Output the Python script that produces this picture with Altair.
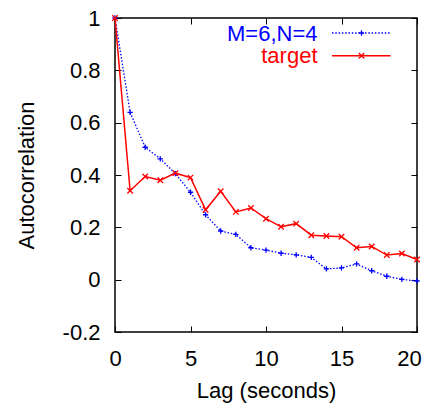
import altair as alt
import pandas as pd

lags = list(range(21))
model_acf = [1.0, 0.639, 0.506, 0.462, 0.405, 0.334, 0.248, 0.186, 0.173, 0.122, 0.113,
             0.101, 0.095, 0.085, 0.041, 0.045, 0.060, 0.034, 0.013, 0.001, -0.005]
target_acf = [1.0, 0.340, 0.394, 0.380, 0.407, 0.390, 0.267, 0.338, 0.259, 0.274, 0.233,
              0.202, 0.214, 0.170, 0.167, 0.164, 0.122, 0.127, 0.094, 0.100, 0.077]
series_names = ["M=6,N=4", "target"]
series_colors = ["#0000ff", "#ff0000"]
x_ticks = [0, 5, 10, 15, 20]
y_ticks = [-0.2, 0, 0.2, 0.4, 0.6, 0.8, 1]

model_df = pd.DataFrame({"lag": lags, "acf": model_acf})
target_df = pd.DataFrame({"lag": lags, "acf": target_acf})

FONT = "Liberation Sans"
W, H = 302, 314
TICK = {"expr": "-6"}
xscale = alt.Scale(domain=[0, 20], nice=False, zero=False)
yscale = alt.Scale(domain=[-0.2, 1], nice=False, zero=False)

x_main = alt.X("lag:Q", scale=xscale,
               axis=alt.Axis(values=x_ticks, title="Lag (seconds)", tickSize=TICK,
                             labelPadding=22, labelFlush=False, labelOverlap=False,
                             labelOffset={"condition": {"test": "datum.value == 20", "value": -8},
                                          "value": 0},
                             titleX=W / 2, titleY=65, titleBaseline="alphabetic"))
y_main = alt.Y("acf:Q", scale=yscale,
               axis=alt.Axis(values=y_ticks, title="Autocorrelation", tickSize=TICK,
                             labelPadding=21, labelFlush=False, labelOverlap=False,
                             labelExpr="'' + datum.value",
                             titleX=-82, titleY=H / 2, titleBaseline="alphabetic"))
x_top = alt.X("lag:Q", scale=xscale,
              axis=alt.Axis(orient="top", values=x_ticks, labels=False, title="", tickSize=TICK))
y_right = alt.Y("acf:Q", scale=yscale,
                axis=alt.Axis(orient="right", values=y_ticks, labels=False, title="", tickSize=TICK))

PLUS = "M-1,0L1,0M0,-1L0,1"
CROSS = "M-1,-1L1,1M-1,1L1,-1"

blue_line = alt.Chart(model_df).mark_line(color=series_colors[0], strokeWidth=1.3,
                                          strokeDash=[1.5, 1.8]).encode(x=x_main, y=y_main)
blue_pts = alt.Chart(model_df).mark_point(shape=PLUS, filled=False, size=28, strokeWidth=1.3,
                                          color=series_colors[0], opacity=1).encode(x=x_main, y=y_main)
red_line = alt.Chart(target_df).mark_line(color=series_colors[1], strokeWidth=1.5).encode(x=x_main, y=y_main)
red_pts = alt.Chart(target_df).mark_point(shape=CROSS, filled=False, size=30, strokeWidth=1.3,
                                          color=series_colors[1], opacity=1).encode(x=x_main, y=y_main)

main = alt.layer(blue_line, blue_pts, red_line, red_pts)
mirror = alt.Chart(model_df).mark_point(opacity=0).encode(x=x_top, y=y_right)

leg_blue = pd.DataFrame({"label": [series_names[0]]})
leg_red = pd.DataFrame({"label": [series_names[1]]})

blue_txt = alt.Chart(leg_blue).mark_text(align="right", baseline="alphabetic", font=FONT, fontSize=22,
                                         color=series_colors[0]).encode(
    x=alt.value(202.5), y=alt.value(23.3), text="label:N")
red_txt = alt.Chart(leg_red).mark_text(align="right", baseline="alphabetic", font=FONT, fontSize=22,
                                       color=series_colors[1]).encode(
    x=alt.value(202.5), y=alt.value(45), text="label:N")
blue_rule = alt.Chart(leg_blue).mark_rule(color=series_colors[0], strokeWidth=1.3,
                                          strokeDash=[1.5, 1.8]).encode(
    x=alt.value(217), x2=alt.value(275.5), y=alt.value(15))
red_rule = alt.Chart(leg_red).mark_rule(color=series_colors[1], strokeWidth=1.5).encode(
    x=alt.value(217), x2=alt.value(275.5), y=alt.value(37.7))
blue_mk = alt.Chart(leg_blue).mark_point(shape=PLUS, filled=False, size=28, strokeWidth=1.3,
                                         color=series_colors[0], opacity=1).encode(
    x=alt.value(246.5), y=alt.value(15))
red_mk = alt.Chart(leg_red).mark_point(shape=CROSS, filled=False, size=30, strokeWidth=1.3,
                                       color=series_colors[1], opacity=1).encode(
    x=alt.value(246.5), y=alt.value(37.7))

chart = alt.layer(
    main, mirror, blue_rule, red_rule, blue_mk, red_mk, blue_txt, red_txt
).resolve_axis(x="independent", y="independent").properties(
    width=W, height=H,
    padding={"left": 107, "top": 10, "right": 5, "bottom": 71},
    autosize=alt.AutoSizeParams(type="none"),
).configure_view(
    stroke="black", strokeWidth=1.5
).configure_axis(
    domain=False, grid=False, labelFont=FONT, titleFont=FONT, labelFontSize=22, titleFontSize=22,
    titleFontWeight="normal", labelColor="black", titleColor="black", tickColor="black", tickWidth=1
)

chart.save("out.html", embed_options={"renderer": "svg", "actions": False})
